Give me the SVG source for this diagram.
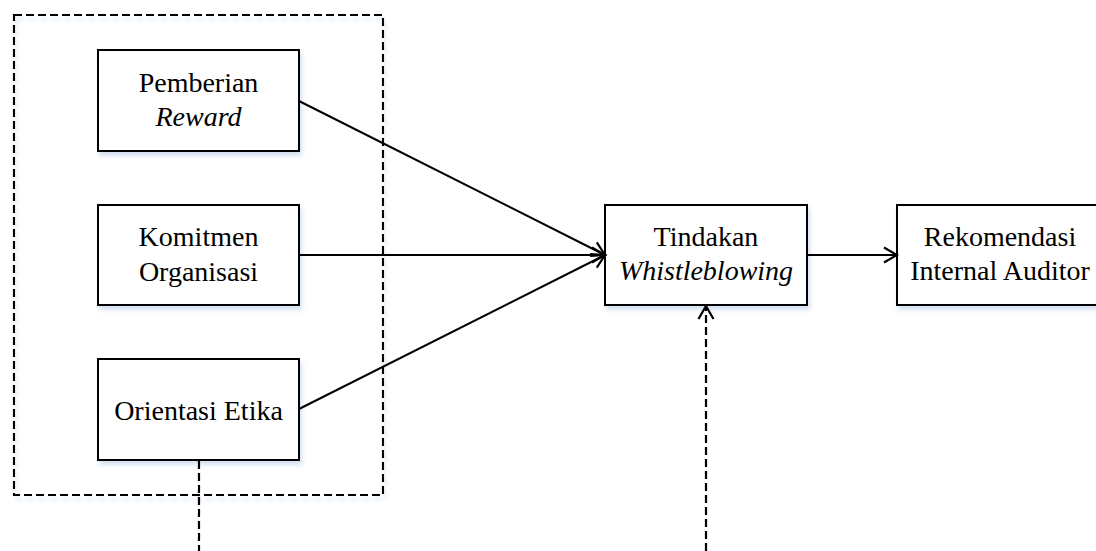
<svg xmlns="http://www.w3.org/2000/svg" width="1096" height="551" viewBox="0 0 1096 551">
  <defs>
    <filter id="soft" x="-10%" y="-10%" width="130%" height="140%">
      <feDropShadow dx="2" dy="4" stdDeviation="2" flood-color="#b9cde8" flood-opacity="0.6"/>
    </filter>
    <marker id="open-arrow" viewBox="0 0 18 18" refX="16" refY="9" markerWidth="18" markerHeight="18" markerUnits="userSpaceOnUse" orient="auto">
      <path d="M3,1.5 L16,9 L3,16.5" fill="none" stroke="#000" stroke-width="2.2"/>
    </marker>
  </defs>
  <style>
    .box { fill: #fff; stroke: #000; stroke-width: 2; filter: url(#soft); }
    .group { fill: none; stroke: #000; stroke-width: 2.2; stroke-dasharray: 8 4; filter: url(#soft); }
    .link { fill: none; stroke: #000; stroke-width: 2; marker-end: url(#open-arrow); }
    .dash { fill: none; stroke: #000; stroke-width: 2.2; stroke-dasharray: 8 4; }
    .label { font-family: "Liberation Serif", "Times New Roman", serif; font-size: 28px; fill: #000; text-anchor: middle; }
    .it { font-style: italic; }
  </style>
  <rect width="1096" height="551" fill="#fff"/>

  <!-- grouping frame around the independent variables -->
  <rect id="variables-frame" class="group" x="14" y="15" width="369" height="480"/>

  <g id="pemberian-reward">
    <rect class="box" x="98" y="50" width="201" height="101"/>
    <text class="label" x="198.5" y="92">Pemberian</text>
    <text class="label it" x="198.5" y="126">Reward</text>
  </g>

  <g id="komitmen-organisasi">
    <rect class="box" x="98" y="205" width="201" height="100"/>
    <text class="label" x="198.5" y="246">Komitmen</text>
    <text class="label" x="198.5" y="281">Organisasi</text>
  </g>

  <g id="orientasi-etika">
    <rect class="box" x="98" y="359" width="201" height="101"/>
    <text class="label" x="198.5" y="420">Orientasi Etika</text>
  </g>

  <g id="tindakan-whistleblowing">
    <rect class="box" x="605" y="205" width="202" height="100"/>
    <text class="label" x="706" y="246">Tindakan</text>
    <text class="label it" x="706" y="280">Whistleblowing</text>
  </g>

  <g id="rekomendasi-internal-auditor">
    <rect class="box" x="897" y="205" width="206" height="100"/>
    <text class="label" x="1000" y="246">Rekomendasi</text>
    <text class="label" x="1000" y="280">Internal Auditor</text>
  </g>

  <g id="connectors">
    <line class="link" x1="299" y1="101" x2="605" y2="255"/>
    <line class="link" x1="299" y1="255" x2="605" y2="255"/>
    <line class="link" x1="299" y1="409" x2="605" y2="255"/>
    <line class="link" x1="807" y1="255" x2="897" y2="255"/>
    <line class="dash" x1="199" y1="461" x2="199" y2="551"/>
    <line class="dash link" x1="706" y1="551" x2="706" y2="306"/>
  </g>
</svg>
